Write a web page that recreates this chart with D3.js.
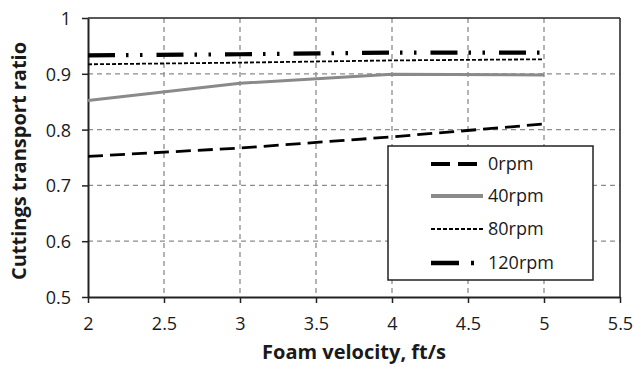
<!DOCTYPE html>
<html>
<head>
<meta charset="utf-8">
<script src="https://cdn.jsdelivr.net/npm/d3@7"></script>
<style>
  body { margin: 0; background: #fff; }
  svg { display: block; font-family: "Open Sans", sans-serif; }
</style>
</head>
<body>
<svg id="plot" width="634" height="367"></svg>
<script>
const velocity = [2, 3, 4, 5];
const rpm0 = [0.752, 0.767, 0.787, 0.810];
const rpm40 = [0.852, 0.883, 0.899, 0.898];
const rpm80 = [0.917, 0.920, 0.924, 0.926];
const rpm120 = [0.933, 0.935, 0.938, 0.938];
const seriesNames = ["0rpm", "40rpm", "80rpm", "120rpm"];
const xTicks = [2, 2.5, 3, 3.5, 4, 4.5, 5, 5.5];
const yTicks = [0.5, 0.6, 0.7, 0.8, 0.9, 1];

const svg = d3.select("#plot");
const plotL = 88, plotR = 620, plotT = 18, plotB = 297;

const x = d3.scaleLinear().domain([2, 5.5]).range([plotL, plotR]);
const y = d3.scaleLinear().domain([0.5, 1]).range([plotB, plotT]);

// grid
svg.append("g").selectAll("line")
    .data(xTicks.slice(1, -1))
    .enter().append("line")
        .attr("x1", d => x(d)).attr("x2", d => x(d))
        .attr("y1", plotT).attr("y2", plotB)
        .attr("stroke", "#8c8c8c").attr("stroke-width", 1.3)
        .attr("stroke-dasharray", "5,4")
svg.append("g").selectAll("line")
    .data(yTicks.slice(1, -1))
    .enter().append("line")
        .attr("x1", plotL).attr("x2", plotR)
        .attr("y1", d => y(d)).attr("y2", d => y(d))
        .attr("stroke", "#8c8c8c").attr("stroke-width", 1.3)
        .attr("stroke-dasharray", "5,4")

// frame top/right
svg.append("line").attr("x1", plotL).attr("x2", plotR).attr("y1", plotT).attr("y2", plotT)
    .attr("stroke", "#222").attr("stroke-width", 1.5)
svg.append("line").attr("x1", plotR).attr("x2", plotR).attr("y1", plotT).attr("y2", plotB)
    .attr("stroke", "#222").attr("stroke-width", 1.5)

// axes
const xAxis = svg.append("g")
    .attr("transform", "translate(0," + plotB + ")")
    .call(d3.axisBottom(x).tickValues(xTicks).tickSize(6).tickSizeOuter(0).tickFormat(d3.format("")))
const yAxis = svg.append("g")
    .attr("transform", "translate(" + plotL + ",0)")
    .call(d3.axisLeft(y).tickValues(yTicks).tickSize(6).tickSizeOuter(0).tickFormat(d3.format("")))
;[xAxis, yAxis].forEach(function(a) {
    a.select(".domain").attr("stroke", "#222").attr("stroke-width", 2)
    a.selectAll(".tick line").attr("stroke", "#222").attr("stroke-width", 1.5)
    a.selectAll(".tick text").attr("font-size", "18px").attr("fill", "#1a1a1a")
        .attr("font-family", "Open Sans")
})
xAxis.selectAll(".tick text").attr("y", 33).attr("dy", 0)
yAxis.selectAll(".tick text").attr("x", -17).attr("dy", "0.36em")

// series
const styles = [
    {color: "#000", width: 2.8, dash: "15,7"},
    {color: "#8a8a8a", width: 3, dash: null},
    {color: "#000", width: 1.8, dash: "4,2"},
    {color: "#000", width: 4.2, dash: "27,11,2.5,11.5,2.5,14"}
];
const allData = [rpm0, rpm40, rpm80, rpm120];

const line = d3.line()
    .x((d, i) => x(velocity[i]))
    .y(d => y(d))

allData.forEach(function(vals, k) {
    svg.append("path")
        .datum(vals)
        .attr("d", line)
        .attr("fill", "none")
        .attr("stroke", styles[k].color)
        .attr("stroke-width", styles[k].width)
        .attr("stroke-dasharray", styles[k].dash)
})

// legend
const legX = 388, legY = 146, legW = 205, legH = 134;
svg.append("rect")
    .attr("x", legX).attr("y", legY).attr("width", legW).attr("height", legH)
    .attr("fill", "#fff").attr("stroke", "#222").attr("stroke-width", 1.5)

const legRow = [164, 196, 229, 263];
const legDash = ["19,8", null, "4,2", "28,12,3,20"];
const legWidth = [4, 4, 2, 4.5];
seriesNames.forEach(function(name, k) {
    svg.append("line")
        .attr("x1", 431).attr("x2", 483)
        .attr("y1", legRow[k]).attr("y2", legRow[k])
        .attr("stroke", styles[k].color)
        .attr("stroke-width", legWidth[k])
        .attr("stroke-dasharray", legDash[k])
    svg.append("text")
        .attr("x", 488).attr("y", legRow[k])
        .attr("dy", "0.36em")
        .attr("font-size", "18px")
        .attr("fill", "#1a1a1a")
        .text(name)
})

// axis titles
svg.append("text")
    .attr("text-anchor", "middle")
    .attr("font-weight", "bold")
    .attr("font-size", "20px")
    .attr("fill", "#1a1a1a")
    .attr("x", 354).attr("y", 359)
    .text("Foam velocity, ft/s")

svg.append("text")
    .attr("text-anchor", "middle")
    .attr("font-weight", "bold")
    .attr("font-size", "20px")
    .attr("fill", "#1a1a1a")
    .attr("transform", "translate(26,161) rotate(-90)")
    .text("Cuttings transport ratio")
</script>
</body>
</html>
